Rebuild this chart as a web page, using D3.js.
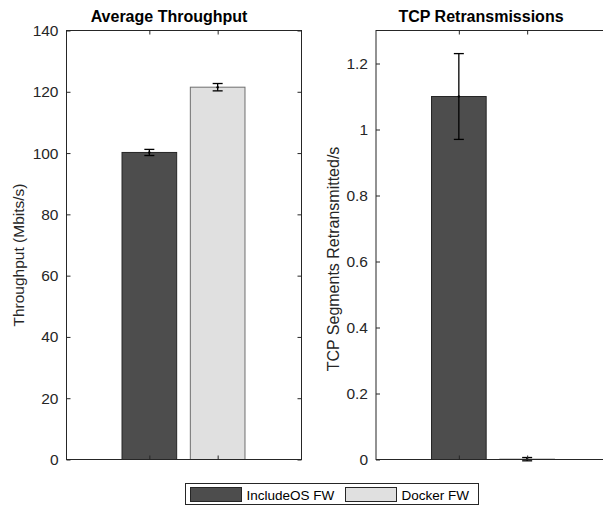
<!DOCTYPE html>
<html>
<head>
<meta charset="utf-8">
<script src="https://cdn.jsdelivr.net/npm/d3@7"></script>
<style>
  body { margin: 0; background: #fff; }
  svg { display: block; font-family: "Liberation Sans", Arial, sans-serif; }
</style>
</head>
<body>
<svg id="chart" width="603" height="506"></svg>
<script>
const categories = ["IncludeOS FW", "Docker FW"];
const colors = ["#4d4d4d", "#e0e0e0"];
const edgeColors = ["#262626", "#6e6e6e"];

const throughput = [100.2, 121.5];
const throughputErr = [1.0, 1.2];
const throughputTicks = [0, 20, 40, 60, 80, 100, 120, 140];

const retrans = [1.1, 0.001];
const retransErr = [0.13, 0.005];
const retransTicks = [0, 0.2, 0.4, 0.6, 0.8, 1, 1.2];

const svg = d3.select("#chart");
const axisColor = "#262626";
const plotTop = 30.5, plotBottom = 459.5, w = 235;

function panel(opts) {
  const g = svg.append("g").attr("transform", `translate(${opts.left},0)`);
  const x = d3.scalePoint().domain(categories).range([0, w]).padding(1.22);
  const y = d3.scaleLinear().domain(opts.domain).range([plotBottom, plotTop]);
  const bw = x.step() * 0.8;

  // bars
  g.selectAll("rect.bar")
    .data(opts.values)
    .join("rect")
    .attr("class", "bar")
    .attr("x", (d, i) => x(categories[i]) - bw / 2)
    .attr("y", (d) => y(d))
    .attr("width", bw)
    .attr("height", (d) => plotBottom - y(d))
    .attr("fill", (d, i) => colors[i])
    .attr("stroke", (d, i) => edgeColors[i])
    .attr("stroke-width", 1);

  // error bars
  opts.values.forEach((v, i) => {
    const cx = x(categories[i]);
    const e = opts.errors[i];
    const eg = g.append("g").attr("stroke", "#000").attr("stroke-width", 1.3);
    eg.append("line").attr("x1", cx).attr("x2", cx).attr("y1", y(v - e)).attr("y2", y(v + e));
    [v - e, v + e].forEach((t) => {
      eg.append("line").attr("x1", cx - 5).attr("x2", cx + 5).attr("y1", y(t)).attr("y2", y(t));
    });
    g.append("circle").attr("cx", cx).attr("cy", y(v)).attr("r", 1.2).attr("fill", "#000");
  });

  // box
  g.append("rect")
    .attr("x", 0.5).attr("y", plotTop)
    .attr("width", w).attr("height", plotBottom - plotTop)
    .attr("fill", "none").attr("stroke", axisColor).attr("stroke-width", 1);

  // y axis, ticks pointing inward
  const ya = g.append("g").attr("transform", "translate(0.5,0)")
    .call(d3.axisLeft(y).tickValues(opts.ticks).tickSizeInner(-4).tickSizeOuter(0).tickPadding(8)
      .tickFormat(d3.format("~g")));
  ya.select(".domain").remove();
  ya.selectAll("line").attr("stroke", axisColor);
  ya.selectAll("text").attr("fill", axisColor).attr("font-size", 15.5);

  // right side ticks
  const yr = g.append("g").attr("transform", `translate(${w + 0.5},0)`)
    .call(d3.axisRight(y).tickValues(opts.ticks).tickSizeInner(-4).tickSizeOuter(0).tickFormat(""));
  yr.select(".domain").remove();
  yr.selectAll("line").attr("stroke", axisColor);

  // x ticks at bottom and top, no labels
  const xb = g.append("g").attr("transform", `translate(0,${plotBottom})`)
    .call(d3.axisBottom(x).tickSizeInner(-4).tickSizeOuter(0).tickFormat(""));
  xb.select(".domain").remove();
  xb.selectAll("line").attr("stroke", axisColor);
  const xt = g.append("g").attr("transform", `translate(0,${plotTop})`)
    .call(d3.axisTop(x).tickSizeInner(-4).tickSizeOuter(0).tickFormat(""));
  xt.select(".domain").remove();
  xt.selectAll("line").attr("stroke", axisColor);

  // title and y label
  svg.append("text")
    .attr("x", opts.titleX).attr("y", 22)
    .attr("text-anchor", "middle")
    .attr("font-size", 16).attr("font-weight", "bold")
    .text(opts.title);

  svg.append("text")
    .attr("transform", `translate(${opts.labelX},${opts.labelY}) rotate(-90)`)
    .attr("text-anchor", "middle")
    .attr("fill", axisColor)
    .attr("font-size", opts.labelSize)
    .text(opts.label);
}

panel({
  left: 66,
  domain: [0, 140],
  ticks: throughputTicks,
  values: throughput,
  errors: throughputErr,
  title: "Average Throughput",
  titleX: 169,
  label: "Throughput (Mbits/s)",
  labelSize: 15.5,
  labelX: 24,
  labelY: 255
});

panel({
  left: 375.5,
  domain: [0, 1.3],
  ticks: retransTicks,
  values: retrans,
  errors: retransErr,
  title: "TCP Retransmissions",
  titleX: 481,
  label: "TCP Segments Retransmitted/s",
  labelSize: 16,
  labelX: 339,
  labelY: 259
});

// legend
const legend = svg.append("g");
legend.append("rect")
  .attr("x", 185.5).attr("y", 483.5).attr("width", 293).attr("height", 21)
  .attr("fill", "#fff").attr("stroke", axisColor).attr("stroke-width", 1);
const legendX = [190.5, 345.5];
categories.forEach((c, i) => {
  legend.append("rect")
    .attr("x", legendX[i]).attr("y", 487.5).attr("width", 51).attr("height", 14)
    .attr("fill", colors[i]).attr("stroke", "#262626");
  legend.append("text")
    .attr("x", legendX[i] + 56).attr("y", 499.5)
    .attr("font-size", 13.5).attr("fill", "#000")
    .text(c);
});
</script>
</body>
</html>
